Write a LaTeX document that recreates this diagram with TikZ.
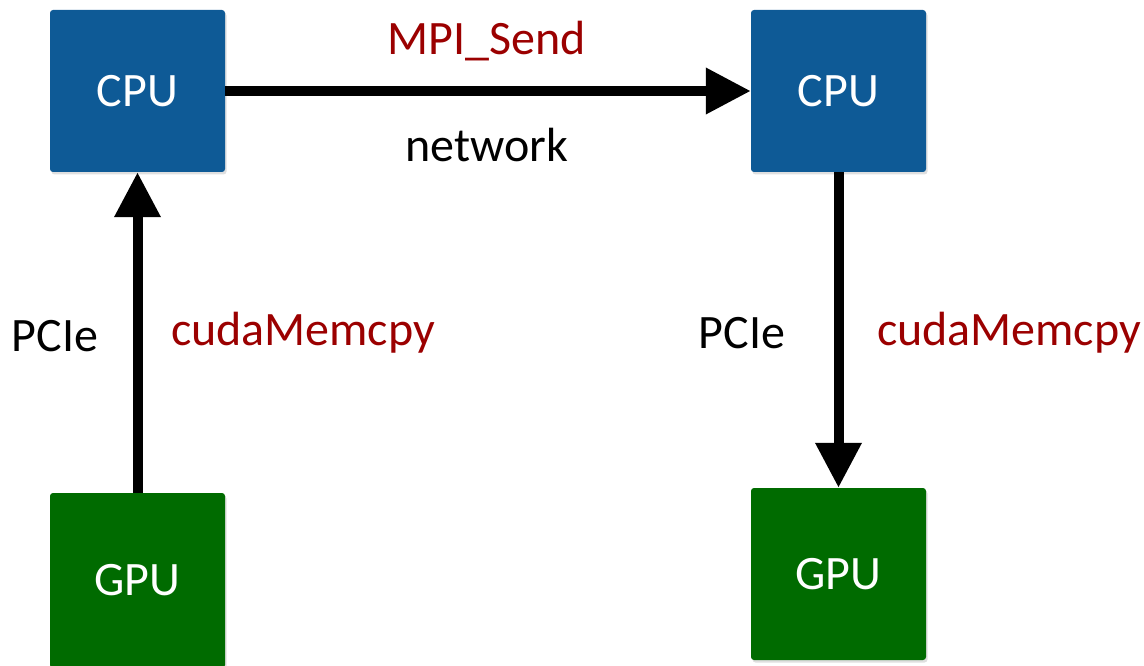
\documentclass[tikz,border=0pt]{standalone}
\usepackage{fontspec}
\setmainfont{Carlito}
\usetikzlibrary{arrows.meta,shadows}
\definecolor{cpublue}{HTML}{0E5A96}
\definecolor{gpugreen}{HTML}{006B00}
\definecolor{callred}{HTML}{9B0000}
\begin{document}
\begin{tikzpicture}[x=1pt,y=-1pt,
  box/.style={draw=none, rounded corners=3pt, minimum width=175pt, inner sep=0pt,
    text=white, font=\fontsize{48}{56}\selectfont,
    drop shadow={opacity=0.25, shadow xshift=1.5pt, shadow yshift=-2.5pt}},
  lbl/.style={inner sep=0pt, font=\fontsize{48}{56}\selectfont},
  call/.style={lbl, text=callred},
  arr/.style={line width=10pt, -{Triangle[length=45pt,width=44pt]}}
]
\useasboundingbox (0,0) rectangle (1144,666);
\clip (0,0) rectangle (1144,666);
\node[box, fill=cpublue, minimum height=162pt] (cpuL) at (137.5,91) {CPU};
\node[box, fill=cpublue, minimum height=162pt] (cpuR) at (838.5,91) {CPU};
\node[box, fill=gpugreen, minimum height=175pt] (gpuL) at (137.5,580.5) {GPU};
\node[box, fill=gpugreen, minimum height=172pt] (gpuR) at (838.5,574) {GPU};
\draw[arr] (cpuL.east) -- (cpuR.west);
\draw[arr] (gpuL.north) -- (cpuL.south);
\draw[arr] (cpuR.south) -- (gpuR.north);
\node[call] (mpi) at (487,41) {MPI\_Send};
\node[lbl] (net) at (487,145) {network};
\node[lbl] (pcieL) at (55,336) {PCIe};
\node[call] (cudaL) at (303,333) {cudaMemcpy};
\node[lbl] (pcieR) at (742,333) {PCIe};
\node[call] (cudaR) at (1009,333) {cudaMemcpy};
\end{tikzpicture}
\end{document}
